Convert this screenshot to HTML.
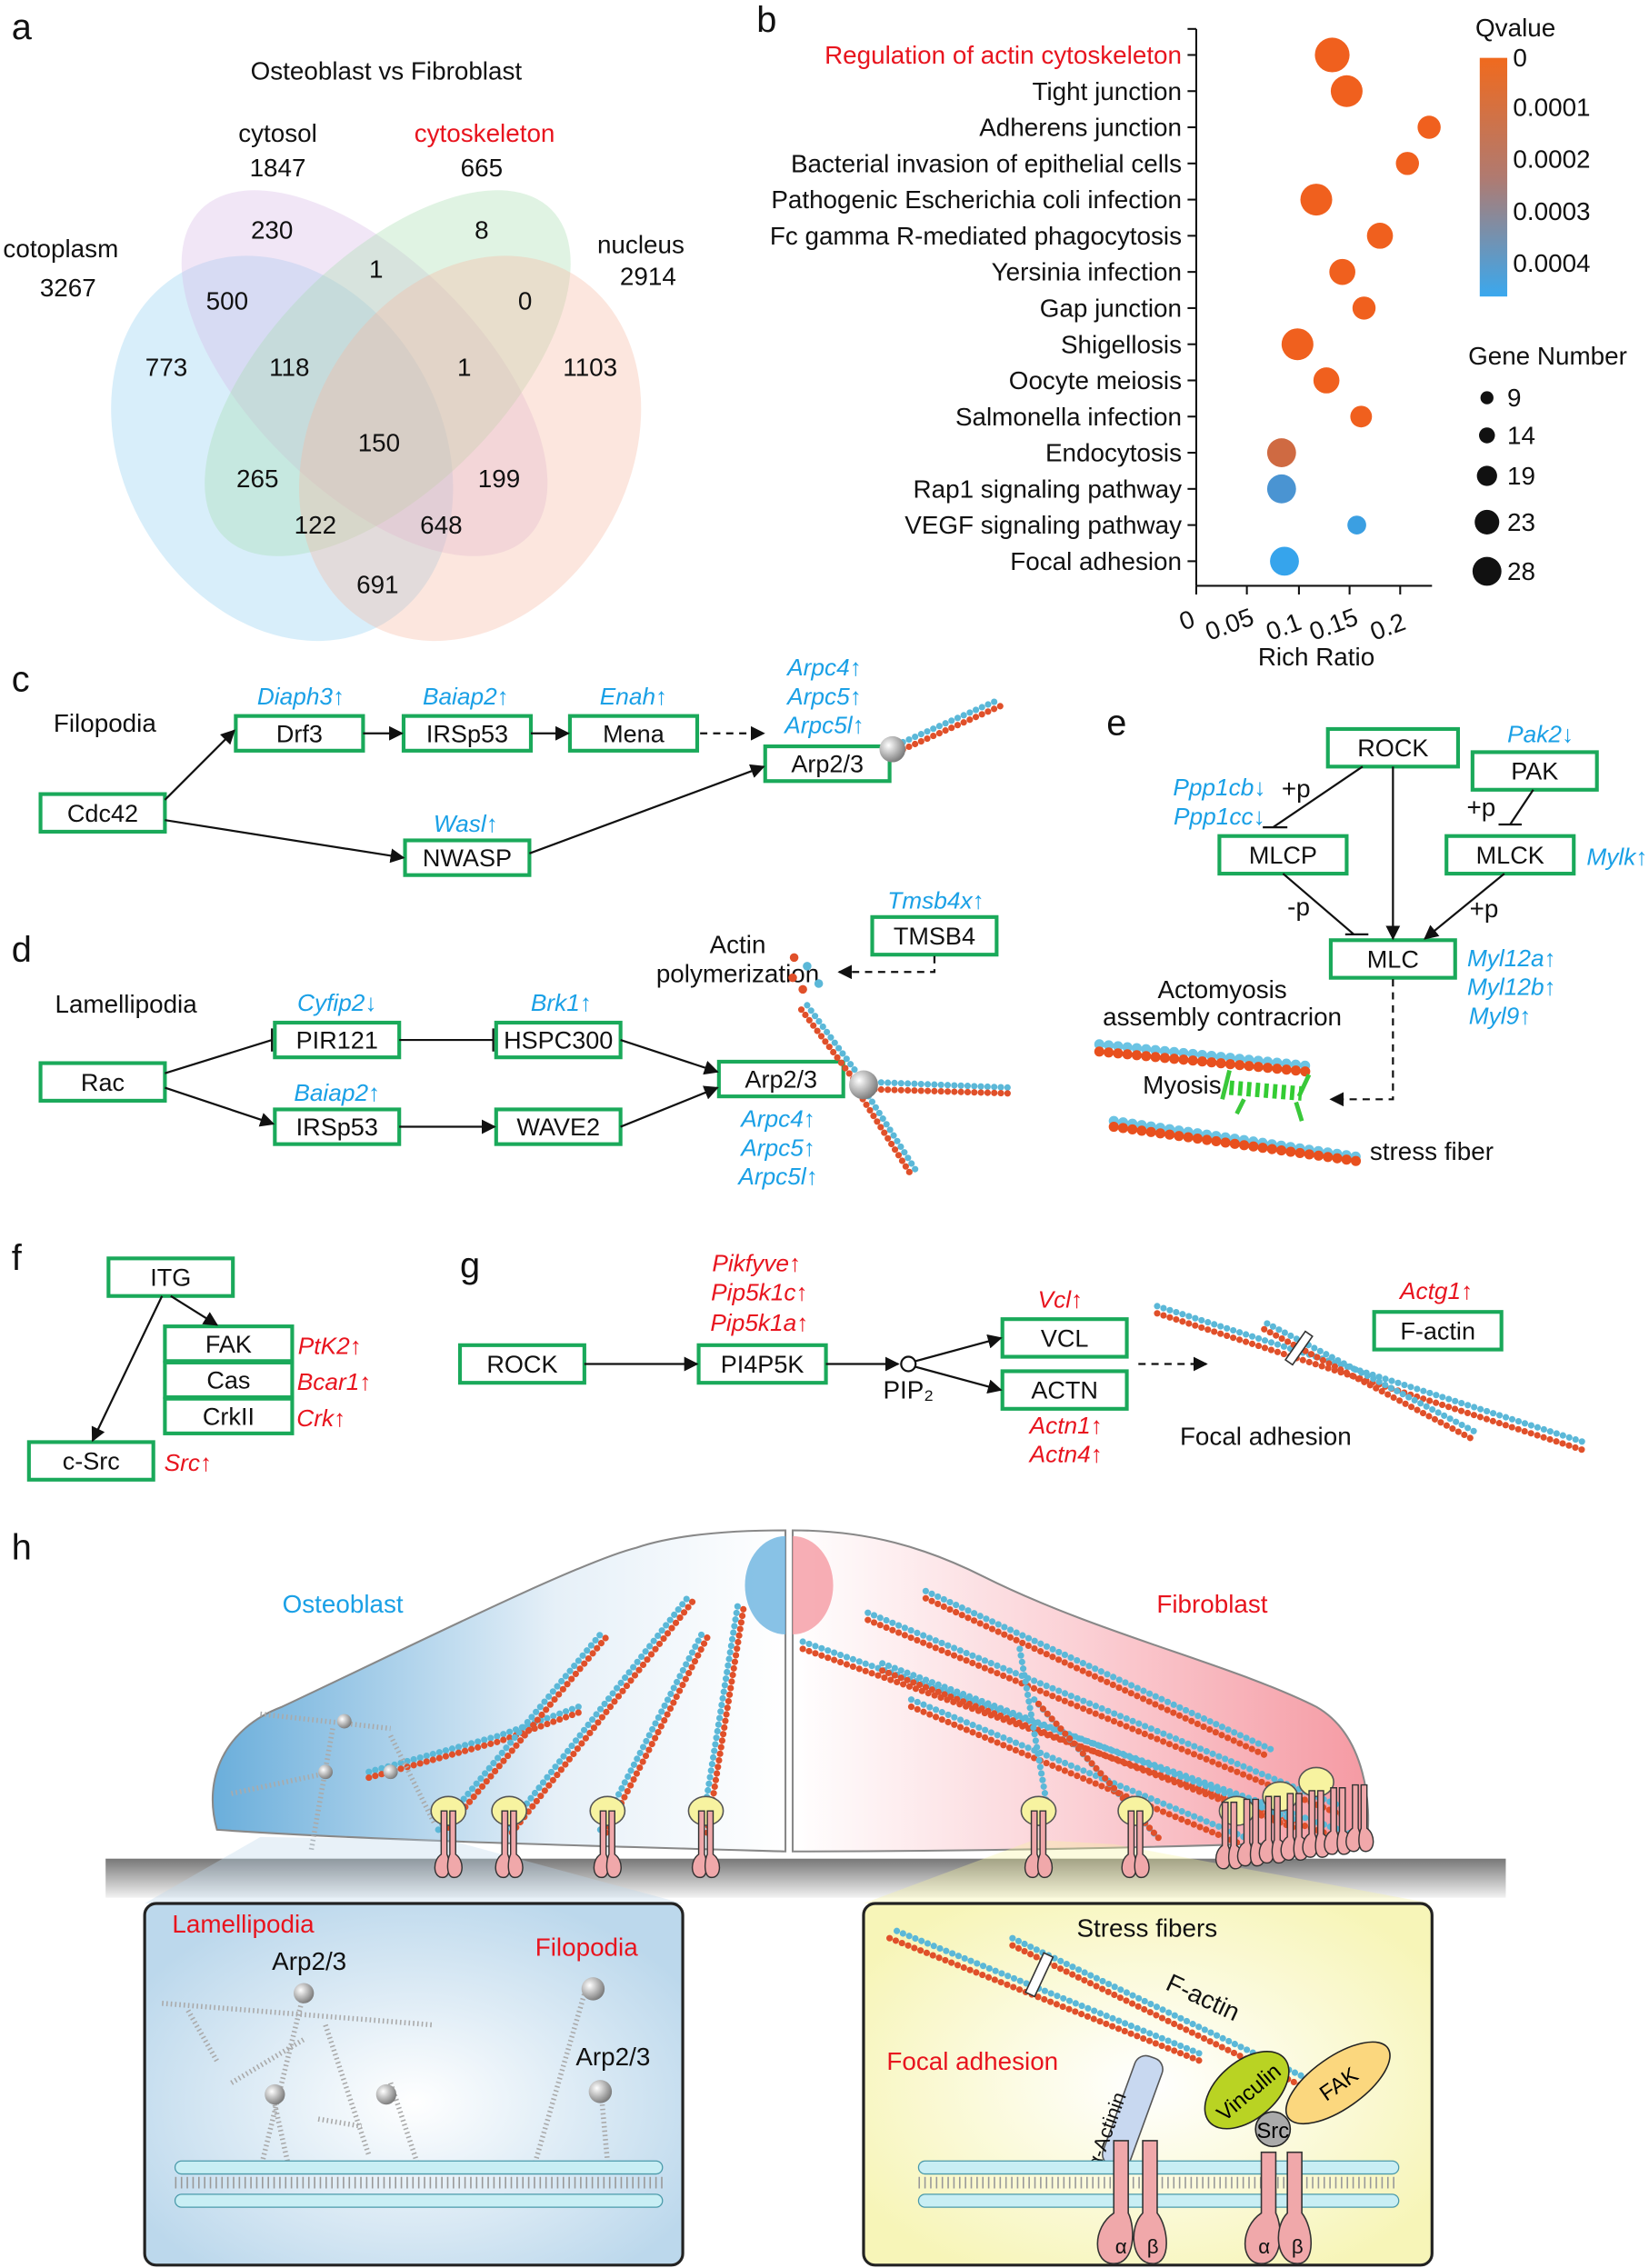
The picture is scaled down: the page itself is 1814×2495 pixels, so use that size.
<!DOCTYPE html>
<html><head><meta charset="utf-8">
<style>
html,body{margin:0;padding:0;background:#fff;}
svg{display:block;}
text{font-family:"Liberation Sans",Arial,sans-serif;}
.bx{fill:#fff;stroke:#1aa95a;stroke-width:2.6;}
.bt{font-size:17px;fill:#111;text-anchor:middle;}
.bl{font-size:16.5px;fill:#1aa0e6;font-style:italic;text-anchor:middle;}
.rd{font-size:16.5px;fill:#e8141e;font-style:italic;text-anchor:middle;}
.lb{font-size:17.5px;fill:#111;}
.pl{font-size:25px;fill:#111;}
.ar{stroke:#111;stroke-width:1.4;fill:none;marker-end:url(#ah);}
.da{stroke:#111;stroke-width:1.4;fill:none;stroke-dasharray:5 4;marker-end:url(#ah);}
.inh{stroke:#111;stroke-width:1.4;fill:none;}
.fb{stroke:#5bb8d8;stroke-width:4.5;stroke-dasharray:0 4.6;stroke-linecap:round;fill:none;}
.fo{stroke:#e0502a;stroke-width:4.5;stroke-dasharray:0 4.6;stroke-linecap:round;fill:none;}
.fb7{stroke:#6cc4e4;stroke-width:7;stroke-dasharray:0 6.5;stroke-linecap:round;fill:none;}
.fo7{stroke:#e8501e;stroke-width:7;stroke-dasharray:0 6.5;stroke-linecap:round;fill:none;}
.gr{stroke:#aaa;stroke-width:3.5;stroke-dasharray:1 2;fill:none;}
.itg{fill:#f0a8aa;stroke:#333;stroke-width:0.9;}
</style></head>
<body>
<svg width="1814" height="2495" viewBox="0 0 1140 1568" xmlns="http://www.w3.org/2000/svg">
<defs>
<marker id="ah" markerWidth="10" markerHeight="10" refX="9" refY="5" orient="auto" markerUnits="userSpaceOnUse">
<path d="M0,0 L10,5 L0,10 Z" fill="#111"/></marker>
<linearGradient id="qv" x1="0" y1="0" x2="0" y2="1"><stop offset="0" stop-color="#f06a1e"/><stop offset="0.5" stop-color="#b07a70"/><stop offset="1" stop-color="#3aa8ee"/></linearGradient>
<linearGradient id="ost" x1="0" y1="0" x2="1" y2="0"><stop offset="0" stop-color="#6aaedb"/><stop offset="0.6" stop-color="#e6f0f8"/><stop offset="1" stop-color="#fff"/></linearGradient>
<linearGradient id="fib" x1="0" y1="0" x2="1" y2="0"><stop offset="0" stop-color="#fff"/><stop offset="0.5" stop-color="#fbd0d5"/><stop offset="1" stop-color="#f59aa3"/></linearGradient>
<linearGradient id="gnd" x1="0" y1="0" x2="0" y2="1"><stop offset="0" stop-color="#777"/><stop offset="1" stop-color="#f2f2f2"/></linearGradient>
<radialGradient id="lbox" cx="0.5" cy="0.55" r="0.6"><stop offset="0" stop-color="#fff"/><stop offset="1" stop-color="#bcd8ec"/></radialGradient>
<radialGradient id="ybox" cx="0.5" cy="0.5" r="0.6"><stop offset="0" stop-color="#fff"/><stop offset="1" stop-color="#f7f5b8"/></radialGradient>
<radialGradient id="sph" cx="0.35" cy="0.35" r="0.7"><stop offset="0" stop-color="#fff"/><stop offset="1" stop-color="#777"/></radialGradient>
<g id="ig"><path class="itg" d="M-5,0 L-5,30 C-11,34 -11,46 -4,46 C2,46 1,34 -1,30 L-1,0 Z"/><path class="itg" d="M1,0 L1,30 C-1,34 -2,46 4,46 C11,46 11,34 5,30 L5,0 Z"/></g>
</defs>

<!-- Panel a -->
<text x="8" y="27" class="pl">a</text>
<text x="267" y="55" class="lb" text-anchor="middle">Osteoblast vs Fibroblast</text>
<ellipse cx="195" cy="310" rx="110" ry="140" transform="rotate(-30 195 310)" fill="#8ecdf2" fill-opacity="0.35"/>
<ellipse cx="252" cy="258" rx="80" ry="160" transform="rotate(-45 252 258)" fill="#d6b6e6" fill-opacity="0.35"/>
<ellipse cx="268" cy="258" rx="80" ry="160" transform="rotate(45 268 258)" fill="#a6dcb0" fill-opacity="0.35"/>
<ellipse cx="325" cy="310" rx="110" ry="140" transform="rotate(30 325 310)" fill="#f7b8a0" fill-opacity="0.35"/>
<g class="lb" text-anchor="middle">
<text x="192" y="98">cytosol</text><text x="192" y="122">1847</text>
<text x="335" y="98" fill="#e8141e">cytoskeleton</text><text x="333" y="122">665</text>
<text x="42" y="178">cotoplasm</text><text x="47" y="205">3267</text>
<text x="443" y="175">nucleus</text><text x="448" y="197">2914</text>
<text x="188" y="165">230</text><text x="333" y="165">8</text>
<text x="260" y="192">1</text><text x="157" y="214">500</text><text x="363" y="214">0</text>
<text x="115" y="260">773</text><text x="200" y="260">118</text><text x="321" y="260">1</text><text x="408" y="260">1103</text>
<text x="262" y="312">150</text><text x="178" y="337">265</text><text x="345" y="337">199</text>
<text x="218" y="369">122</text><text x="305" y="369">648</text><text x="261" y="410">691</text>
</g>

<!-- Panel b -->
<text x="523" y="22" class="pl">b</text>
<line x1="827" y1="20" x2="827" y2="405" stroke="#111" stroke-width="1.3"/>
<line x1="827" y1="405" x2="990" y2="405" stroke="#111" stroke-width="1.3"/>
<g stroke="#111" stroke-width="1.3">
<line x1="821" y1="20" x2="827" y2="20"/>
<line x1="821" y1="38" x2="827" y2="38"/><line x1="821" y1="63" x2="827" y2="63"/><line x1="821" y1="88" x2="827" y2="88"/><line x1="821" y1="113" x2="827" y2="113"/><line x1="821" y1="138" x2="827" y2="138"/><line x1="821" y1="163" x2="827" y2="163"/><line x1="821" y1="188" x2="827" y2="188"/><line x1="821" y1="213" x2="827" y2="213"/><line x1="821" y1="238" x2="827" y2="238"/><line x1="821" y1="263" x2="827" y2="263"/><line x1="821" y1="288" x2="827" y2="288"/><line x1="821" y1="313" x2="827" y2="313"/><line x1="821" y1="338" x2="827" y2="338"/><line x1="821" y1="363" x2="827" y2="363"/><line x1="821" y1="388" x2="827" y2="388"/>
<line x1="827" y1="405" x2="827" y2="411"/><line x1="862" y1="405" x2="862" y2="411"/><line x1="898" y1="405" x2="898" y2="411"/><line x1="933" y1="405" x2="933" y2="411"/><line x1="968" y1="405" x2="968" y2="411"/>
</g>
<g class="lb" text-anchor="end" font-size="18.3">
<text x="817" y="44" fill="#e8141e">Regulation of actin cytoskeleton</text>
<text x="817" y="69">Tight junction</text><text x="817" y="94">Adherens junction</text>
<text x="817" y="119">Bacterial invasion of epithelial cells</text>
<text x="817" y="144">Pathogenic Escherichia coli infection</text>
<text x="817" y="169">Fc gamma R-mediated phagocytosis</text>
<text x="817" y="194">Yersinia infection</text><text x="817" y="219">Gap junction</text>
<text x="817" y="244">Shigellosis</text><text x="817" y="269">Oocyte meiosis</text>
<text x="817" y="294">Salmonella infection</text><text x="817" y="319">Endocytosis</text>
<text x="817" y="344">Rap1 signaling pathway</text><text x="817" y="369">VEGF signaling pathway</text>
<text x="817" y="394">Focal adhesion</text>
</g>
<g fill="#f0601e">
<circle cx="921" cy="38" r="12"/><circle cx="931" cy="63" r="11"/><circle cx="988" cy="88" r="8"/><circle cx="973" cy="113" r="8"/><circle cx="910" cy="138" r="11"/><circle cx="954" cy="163" r="9"/><circle cx="928" cy="188" r="9"/><circle cx="943" cy="213" r="8"/><circle cx="897" cy="238" r="11"/><circle cx="917" cy="263" r="9"/><circle cx="941" cy="288" r="7.5"/>
</g>
<circle cx="886" cy="313" r="10" fill="#cf6a42"/><circle cx="886" cy="338" r="10" fill="#4a94d2"/><circle cx="938" cy="363" r="6.5" fill="#3b9fe2"/><circle cx="888" cy="388" r="10" fill="#36a4ec"/>
<g class="lb" font-size="16">
<text x="818" y="436" transform="rotate(-20 818 436)">0</text>
<text x="836" y="443" transform="rotate(-20 836 443)">0.05</text>
<text x="878" y="443" transform="rotate(-20 878 443)">0.1</text>
<text x="908" y="443" transform="rotate(-20 908 443)">0.15</text>
<text x="950" y="443" transform="rotate(-20 950 443)">0.2</text>
</g>
<text x="910" y="460" class="lb" text-anchor="middle">Rich Ratio</text>
<text x="1020" y="25" class="lb">Qvalue</text>
<rect x="1023" y="40" width="19" height="165" fill="url(#qv)"/>
<g class="lb" font-size="16"><text x="1046" y="46">0</text><text x="1046" y="80">0.0001</text><text x="1046" y="116">0.0002</text><text x="1046" y="152">0.0003</text><text x="1046" y="188">0.0004</text></g>
<text x="1015" y="252" class="lb">Gene Number</text>
<g fill="#111"><circle cx="1028" cy="275" r="4.5"/><circle cx="1028" cy="301" r="5.5"/><circle cx="1028" cy="329" r="7"/><circle cx="1028" cy="361" r="8.5"/><circle cx="1028" cy="395" r="10"/></g>
<g class="lb"><text x="1042" y="281">9</text><text x="1042" y="307">14</text><text x="1042" y="335">19</text><text x="1042" y="367">23</text><text x="1042" y="401">28</text></g>

<!-- Panel c -->
<text x="8" y="478" class="pl">c</text>
<text x="37" y="506" class="lb">Filopodia</text>
<rect class="bx" x="163" y="495" width="88" height="24"/><text class="bt" x="207" y="513">Drf3</text>
<rect class="bx" x="279" y="495" width="88" height="24"/><text class="bt" x="323" y="513">IRSp53</text>
<rect class="bx" x="394" y="495" width="88" height="24"/><text class="bt" x="438" y="513">Mena</text>
<rect class="bx" x="529" y="516" width="86" height="24"/><text class="bt" x="572" y="534">Arp2/3</text>
<rect class="bx" x="28" y="549" width="86" height="26"/><text class="bt" x="71" y="568">Cdc42</text>
<rect class="bx" x="280" y="581" width="86" height="24"/><text class="bt" x="323" y="599">NWASP</text>
<text class="bl" x="208" y="487">Diaph3↑</text><text class="bl" x="322" y="487">Baiap2↑</text><text class="bl" x="438" y="487">Enah↑</text>
<text class="bl" x="570" y="467">Arpc4↑</text><text class="bl" x="570" y="487">Arpc5↑</text><text class="bl" x="570" y="507">Arpc5l↑</text>
<text class="bl" x="322" y="575">Wasl↑</text>
<path class="ar" d="M114,553 L162,505"/><path class="ar" d="M251,507 L278,507"/><path class="ar" d="M367,507 L393,507"/>
<path class="da" d="M484,507 L528,507"/><path class="ar" d="M114,567 L279,593"/><path class="ar" d="M366,590 L528,530"/>
<path class="fb" d="M620,515 L690,484"/><path class="fo" d="M620,520 L692,488"/>
<circle cx="617" cy="518" r="9" fill="url(#sph)"/>

<!-- Panel d -->
<text x="8" y="665" class="pl">d</text>
<text x="38" y="700" class="lb">Lamellipodia</text>
<rect class="bx" x="190" y="707" width="86" height="24"/><text class="bt" x="233" y="725">PIR121</text>
<rect class="bx" x="343" y="707" width="86" height="24"/><text class="bt" x="386" y="725">HSPC300</text>
<rect class="bx" x="28" y="735" width="86" height="26"/><text class="bt" x="71" y="754">Rac</text>
<rect class="bx" x="190" y="767" width="86" height="24"/><text class="bt" x="233" y="785">IRSp53</text>
<rect class="bx" x="343" y="767" width="86" height="24"/><text class="bt" x="386" y="785">WAVE2</text>
<rect class="bx" x="497" y="734" width="86" height="24"/><text class="bt" x="540" y="752">Arp2/3</text>
<rect class="bx" x="603" y="634" width="86" height="26"/><text class="bt" x="646" y="653">TMSB4</text>
<text class="bl" x="233" y="699">Cyfip2↓</text><text class="bl" x="388" y="699">Brk1↑</text><text class="bl" x="233" y="761">Baiap2↑</text>
<text class="bl" x="647" y="628">Tmsb4x↑</text>
<text class="bl" x="538" y="779">Arpc4↑</text><text class="bl" x="538" y="799">Arpc5↑</text><text class="bl" x="538" y="819">Arpc5l↑</text>
<text class="lb" x="510" y="659" text-anchor="middle">Actin</text><text class="lb" x="510" y="679" text-anchor="middle">polymerization</text>
<path class="inh" d="M114,742 L188,719 M188,711 L188,727"/><path class="inh" d="M276,719 L341,719 M341,711 L341,727"/>
<path class="ar" d="M114,752 L189,777"/><path class="ar" d="M276,779 L342,779"/>
<path class="ar" d="M429,719 L496,741"/><path class="ar" d="M429,779 L496,752"/>
<path class="da" d="M646,661 L646,672 L580,672"/>
<path class="fb" d="M558,695 L597,748"/><path class="fo" d="M554,698 L593,750"/>
<path class="fb" d="M600,748 L700,752"/><path class="fo" d="M600,753 L700,756"/>
<path class="fb" d="M598,754 L635,812"/><path class="fo" d="M594,756 L631,814"/>
<circle cx="549" cy="662" r="3" fill="#e0502a"/><circle cx="558" cy="668" r="3" fill="#5bb8d8"/><circle cx="548" cy="676" r="3" fill="#e0502a"/><circle cx="566" cy="680" r="3" fill="#5bb8d8"/><circle cx="555" cy="684" r="3" fill="#e0502a"/>
<circle cx="597" cy="750" r="10" fill="url(#sph)"/>

<!-- Panel e -->
<text x="765" y="508" class="pl">e</text>
<rect class="bx" x="918" y="504" width="90" height="26"/><text class="bt" x="963" y="523">ROCK</text>
<rect class="bx" x="1018" y="520" width="86" height="26"/><text class="bt" x="1061" y="539">PAK</text>
<rect class="bx" x="843" y="578" width="88" height="26"/><text class="bt" x="887" y="597">MLCP</text>
<rect class="bx" x="1000" y="578" width="88" height="26"/><text class="bt" x="1044" y="597">MLCK</text>
<rect class="bx" x="920" y="650" width="86" height="26"/><text class="bt" x="963" y="669">MLC</text>
<text class="bl" x="1065" y="513">Pak2↓</text><text class="bl" x="843" y="550">Ppp1cb↓</text><text class="bl" x="843" y="570">Ppp1cc↓</text>
<text class="bl" x="1118" y="598">Mylk↑</text>
<text class="bl" x="1045" y="668">Myl12a↑</text><text class="bl" x="1045" y="688">Myl12b↑</text><text class="bl" x="1037" y="708">Myl9↑</text>
<text class="lb" x="886" y="551">+p</text><text class="lb" x="1014" y="564">+p</text><text class="lb" x="890" y="633">-p</text><text class="lb" x="1016" y="634">+p</text>
<path class="inh" d="M942,530 L880,572 M873,572 L890,572"/><path class="inh" d="M1060,546 L1044,570 M1036,570 L1052,570"/>
<path class="ar" d="M963,530 L963,649"/>
<path class="inh" d="M887,604 L936,646 M930,646 L946,646"/><path class="ar" d="M1040,604 L985,649"/>
<path class="da" d="M963,677 L963,760 L920,760"/>
<text class="lb" x="845" y="690" text-anchor="middle">Actomyosis</text><text class="lb" x="845" y="709" text-anchor="middle">assembly contracrion</text>
<text class="lb" x="790" y="756">Myosis</text>
<text class="lb" x="947" y="802">stress fiber</text>
<path class="fb7" d="M760,722 L905,737"/><path class="fo7" d="M760,727 L905,741"/>
<path class="fb7" d="M770,775 L940,800"/><path class="fo7" d="M770,779 L940,803"/>
<path d="M850,740 L845,760 M905,743 L898,758 M855,770 L860,760 M900,775 L896,762" stroke="#3ac83a" stroke-width="3" fill="none"/>
<path d="M850,752 L900,756" stroke="#33cc33" stroke-width="10" stroke-dasharray="3 3" fill="none"/>

<!-- Panel f -->
<text x="8" y="878" class="pl">f</text>
<rect class="bx" x="75" y="870" width="86" height="26"/><text class="bt" x="118" y="889">ITG</text>
<rect class="bx" x="114" y="917" width="88" height="24"/><text class="bt" x="158" y="935">FAK</text>
<rect class="bx" x="114" y="942" width="88" height="24"/><text class="bt" x="158" y="960">Cas</text>
<rect class="bx" x="114" y="967" width="88" height="24"/><text class="bt" x="158" y="985">CrkII</text>
<rect class="bx" x="20" y="997" width="86" height="26"/><text class="bt" x="63" y="1016">c-Src</text>
<text class="rd" x="228" y="936">PtK2↑</text><text class="rd" x="231" y="961">Bcar1↑</text><text class="rd" x="222" y="986">Crk↑</text><text class="rd" x="130" y="1017">Src↑</text>
<path class="ar" d="M118,896 L150,916"/><path class="ar" d="M112,896 L64,996"/>

<!-- Panel g -->
<text x="318" y="883" class="pl">g</text>
<rect class="bx" x="318" y="930" width="86" height="26"/><text class="bt" x="361" y="949">ROCK</text>
<rect class="bx" x="483" y="930" width="88" height="26"/><text class="bt" x="527" y="949">PI4P5K</text>
<rect class="bx" x="693" y="912" width="86" height="26"/><text class="bt" x="736" y="931">VCL</text>
<rect class="bx" x="693" y="948" width="86" height="26"/><text class="bt" x="736" y="967">ACTN</text>
<rect class="bx" x="950" y="907" width="88" height="26"/><text class="bt" x="994" y="926">F-actin</text>
<text class="rd" x="523" y="879">Pikfyve↑</text><text class="rd" x="525" y="899">Pip5k1c↑</text><text class="rd" x="525" y="920">Pip5k1a↑</text>
<text class="rd" x="733" y="904">Vcl↑</text><text class="rd" x="737" y="991">Actn1↑</text><text class="rd" x="737" y="1011">Actn4↑</text><text class="rd" x="993" y="898">Actg1↑</text>
<path class="ar" d="M404,943 L482,943"/><path class="ar" d="M571,943 L621,943"/>
<circle cx="628" cy="943" r="5" fill="#fff" stroke="#111" stroke-width="1.4"/>
<text class="lb" x="628" y="967" text-anchor="middle">PIP₂</text>
<path class="ar" d="M633,941 L692,925"/><path class="ar" d="M633,945 L692,961"/>
<path class="da" d="M787,943 L834,943"/>
<text class="lb" x="875" y="999" text-anchor="middle">Focal adhesion</text>
<path class="fb" d="M800,903 L1098,998"/><path class="fo" d="M800,908 L1096,1003"/>
<path class="fb" d="M876,915 L1020,990"/><path class="fo" d="M874,919 L1018,995"/>
<rect x="895" y="920" width="6" height="24" fill="#fff" stroke="#333" transform="rotate(35 898 932)"/>

<!-- Panel h -->
<text x="8" y="1078" class="pl">h</text>
<rect x="73" y="1285" width="968" height="27" fill="url(#gnd)"/>
<path d="M150,1265 C140,1230 155,1195 195,1180 C280,1140 400,1080 440,1070 C470,1060 510,1058 543,1058 L543,1280 C400,1276 250,1272 150,1265 Z" fill="url(#ost)" stroke="#888" stroke-width="1.3"/>
<path d="M548,1058 C600,1058 640,1070 680,1090 C760,1130 850,1150 910,1180 C945,1200 948,1250 945,1272 C800,1278 650,1280 548,1280 Z" fill="url(#fib)" stroke="#888" stroke-width="1.3"/>
<path d="M543,1062 A28,34 0 0 0 543,1130 Z" fill="#6ab3e0" opacity="0.8"/>
<path d="M548,1062 A28,34 0 0 1 548,1130 Z" fill="#f59aa3" opacity="0.8"/>
<text x="237" y="1115" font-size="17.5" fill="#1aa0e6" text-anchor="middle">Osteoblast</text>
<text x="838" y="1115" font-size="17.5" fill="#e8141e" text-anchor="middle">Fibroblast</text>
<path class="fb" d="M255,1225 L345,1200 L400,1180"/><path class="fo" d="M255,1229 L345,1204 L400,1184"/>
<path class="fb" d="M303,1265 L415,1130"/><path class="fo" d="M307,1267 L419,1132"/>
<path class="fb" d="M350,1265 L475,1105"/><path class="fo" d="M354,1267 L479,1107"/>
<path class="fb" d="M415,1265 L485,1130"/><path class="fo" d="M419,1267 L489,1132"/>
<path class="fb" d="M485,1265 L510,1110"/><path class="fo" d="M489,1267 L514,1112"/>
<path class="gr" d="M180,1185 L270,1195 M230,1195 L215,1280 M270,1200 L300,1260 M160,1240 L230,1225"/>
<circle cx="238" cy="1190" r="5" fill="url(#sph)"/><circle cx="225" cy="1225" r="5" fill="url(#sph)"/><circle cx="270" cy="1225" r="5" fill="url(#sph)"/>
<path class="fb" d="M555,1135 L940,1270"/><path class="fo" d="M555,1140 L938,1275"/>
<path class="fb" d="M600,1115 L930,1250"/><path class="fo" d="M600,1120 L928,1255"/>
<path class="fb" d="M610,1150 L900,1260"/><path class="fo" d="M610,1155 L898,1265"/>
<path class="fb" d="M640,1100 L880,1210"/><path class="fo" d="M640,1105 L878,1215"/>
<path class="fb" d="M630,1175 L860,1270"/><path class="fo" d="M630,1180 L858,1275"/>
<path class="fb" d="M715,1175 L800,1270"/><path class="fo" d="M718,1178 L803,1273"/>
<path class="fb" d="M705,1140 L725,1255"/>
<path d="M180,1270 L100,1316 L472,1316 L310,1272 Z" fill="#bcd8ec" opacity="0.35"/>
<path d="M715,1272 L597,1316 L990,1316 L770,1275 Z" fill="#f7f3a0" opacity="0.35"/>
<g fill="#f7f3a0" stroke="#555" stroke-width="1">
<ellipse cx="310" cy="1252" rx="12" ry="10"/><ellipse cx="352" cy="1252" rx="12" ry="10"/><ellipse cx="420" cy="1252" rx="12" ry="10"/><ellipse cx="488" cy="1252" rx="12" ry="10"/>
<ellipse cx="718" cy="1252" rx="12" ry="10"/><ellipse cx="785" cy="1252" rx="12" ry="10"/><ellipse cx="855" cy="1252" rx="12" ry="10"/><ellipse cx="885" cy="1242" rx="12" ry="10"/><ellipse cx="910" cy="1232" rx="12" ry="10"/>
</g>
<use href="#ig" x="310" y="1252"/><use href="#ig" x="352" y="1252"/><use href="#ig" x="420" y="1252"/><use href="#ig" x="488" y="1252"/>
<use href="#ig" x="718" y="1252"/><use href="#ig" x="785" y="1252"/>
<use href="#ig" x="850" y="1246"/><use href="#ig" x="865" y="1244"/><use href="#ig" x="880" y="1242"/><use href="#ig" x="895" y="1240"/><use href="#ig" x="910" y="1238"/><use href="#ig" x="925" y="1236"/><use href="#ig" x="940" y="1234"/>
<rect x="100" y="1316" width="372" height="250" rx="8" fill="url(#lbox)" stroke="#222" stroke-width="2"/>
<text x="119" y="1336" font-size="17.5" fill="#e8141e">Lamellipodia</text>
<text x="370" y="1352" font-size="17.5" fill="#e8141e">Filopodia</text>
<text x="188" y="1362" class="lb">Arp2/3</text><text x="398" y="1428" class="lb">Arp2/3</text>
<path class="gr" stroke="#888" d="M112,1385 L300,1400 M210,1378 L180,1500 M225,1400 L255,1490 M130,1390 L150,1425 M160,1440 L210,1410 M190,1455 L200,1500 M220,1465 L250,1470 M270,1440 L290,1500 M370,1495 L405,1375 M415,1440 L420,1495"/>
<g fill="url(#sph)"><circle cx="210" cy="1378" r="7"/><circle cx="190" cy="1448" r="7"/><circle cx="267" cy="1448" r="7"/><circle cx="410" cy="1375" r="8"/><circle cx="415" cy="1446" r="8"/></g>
<g fill="#c8eef4" stroke="#4a9aaa" stroke-width="0.8">
<rect x="121" y="1494" width="337" height="9" rx="4.5"/><rect x="121" y="1517" width="337" height="9" rx="4.5"/>
</g>
<path d="M121,1509 L458,1509" stroke="#999" stroke-width="8" stroke-dasharray="1 3"/>
<rect x="597" y="1316" width="393" height="250" rx="8" fill="url(#ybox)" stroke="#222" stroke-width="2"/>
<text x="793" y="1339" class="lb" text-anchor="middle">Stress fibers</text>
<text x="613" y="1431" font-size="17.5" fill="#e8141e">Focal adhesion</text>
<path class="fb" d="M620,1335 L830,1420"/><path class="fo" d="M615,1340 L830,1425"/>
<path class="fb" d="M700,1340 L910,1440"/><path class="fo" d="M700,1345 L908,1446"/>
<rect x="715" y="1350" width="7" height="30" fill="#fff" stroke="#333" transform="rotate(25 718 1365)"/>
<text x="805" y="1375" class="lb" transform="rotate(25 805 1375)">F-actin</text>
<rect x="773" y="1420" width="20" height="80" rx="8" fill="#c8d8f0" stroke="#555" transform="rotate(20 783 1460)"/>
<text x="760" y="1500" font-size="14" fill="#111" transform="rotate(-70 760 1500)">α-Actinin</text>
<ellipse cx="862" cy="1445" rx="34" ry="20" fill="#b9d323" stroke="#222" transform="rotate(-40 862 1445)"/>
<text x="862" y="1452" font-size="15" text-anchor="middle" transform="rotate(-40 862 1445)">Vinculin</text>
<ellipse cx="925" cy="1440" rx="42" ry="18" fill="#fbd77e" stroke="#222" transform="rotate(-35 925 1440)"/>
<text x="925" y="1446" font-size="15" text-anchor="middle" transform="rotate(-35 925 1440)">FAK</text>
<circle cx="880" cy="1472" r="12" fill="#aaa" stroke="#222"/><text x="880" y="1478" font-size="15" text-anchor="middle">Src</text>
<g fill="#c8eef4" stroke="#4a9aaa" stroke-width="0.8">
<rect x="635" y="1494" width="332" height="9" rx="4.5"/><rect x="635" y="1517" width="332" height="9" rx="4.5"/>
</g>
<path d="M635,1509 L967,1509" stroke="#999" stroke-width="8" stroke-dasharray="1 3"/>
<g fill="#f0a8aa" stroke="#333" stroke-width="1">
<path d="M770,1480 L770,1530 C755,1540 755,1565 770,1565 C785,1565 785,1540 780,1530 L780,1480 Z"/>
<path d="M790,1480 L790,1530 C780,1540 782,1565 797,1565 C810,1565 808,1540 800,1530 L800,1480 Z"/>
<path d="M872,1488 L872,1530 C857,1540 857,1565 872,1565 C887,1565 887,1540 882,1530 L882,1488 Z"/>
<path d="M890,1488 L890,1530 C880,1540 882,1565 897,1565 C910,1565 908,1540 900,1530 L900,1488 Z"/>
</g>
<g font-size="14" fill="#111" text-anchor="middle"><text x="775" y="1558">α</text><text x="797" y="1558">β</text><text x="874" y="1558">α</text><text x="897" y="1558">β</text></g>
</svg>
</body></html>
